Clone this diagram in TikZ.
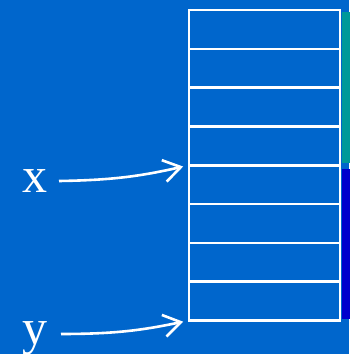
\documentclass[tikz,border=0pt]{standalone}
\usepackage{fontspec}
\setmainfont{Liberation Serif}
\usetikzlibrary{arrows.meta}
\definecolor{bgblue}{HTML}{0066CC}
\definecolor{tealstrip}{HTML}{009999}
\definecolor{deepblue}{HTML}{0000CC}
\begin{document}
\begin{tikzpicture}[x=1pt,y=-1pt,
  cell/.style={draw=white, line width=2.6pt, fill=bgblue, minimum width=151pt,
    minimum height=38.8pt, inner sep=0pt, outer sep=0pt, anchor=north west},
  varlabel/.style={text=white, font=\fontsize{50}{52}\selectfont, inner sep=0pt, anchor=base},
  pointer/.style={draw=white, line width=2.6pt, shorten >=6pt,
    -{Straight Barb[length=17pt, width=22pt, line width=2.6pt]}}]
  % background
  \fill[bgblue] (0,0) rectangle (349,354);
  \useasboundingbox (0,0) rectangle (349,354);
  % side strips marking the two halves of the block
  \fill[tealstrip] (342,12) rectangle (352,163);
  \fill[deepblue] (342,169) rectangle (352,319);
  % eight memory cells
  \foreach \i in {0,...,7} {
    \node[cell] (c\i) at (189, 10+38.8*\i) {};
  }
  % variable names
  \node[varlabel] (x) at (35,192) {x};
  \node[varlabel] (y) at (35,344) {y};
  \coordinate (xs) at (59,181);
  \coordinate (ys) at (61,334);
  % pointers into the cells
  \draw[pointer] (xs) to[bend right=6] (c4.north west);
  \draw[pointer] (ys) to[bend right=6] (c7.south west);
\end{tikzpicture}
\end{document}
